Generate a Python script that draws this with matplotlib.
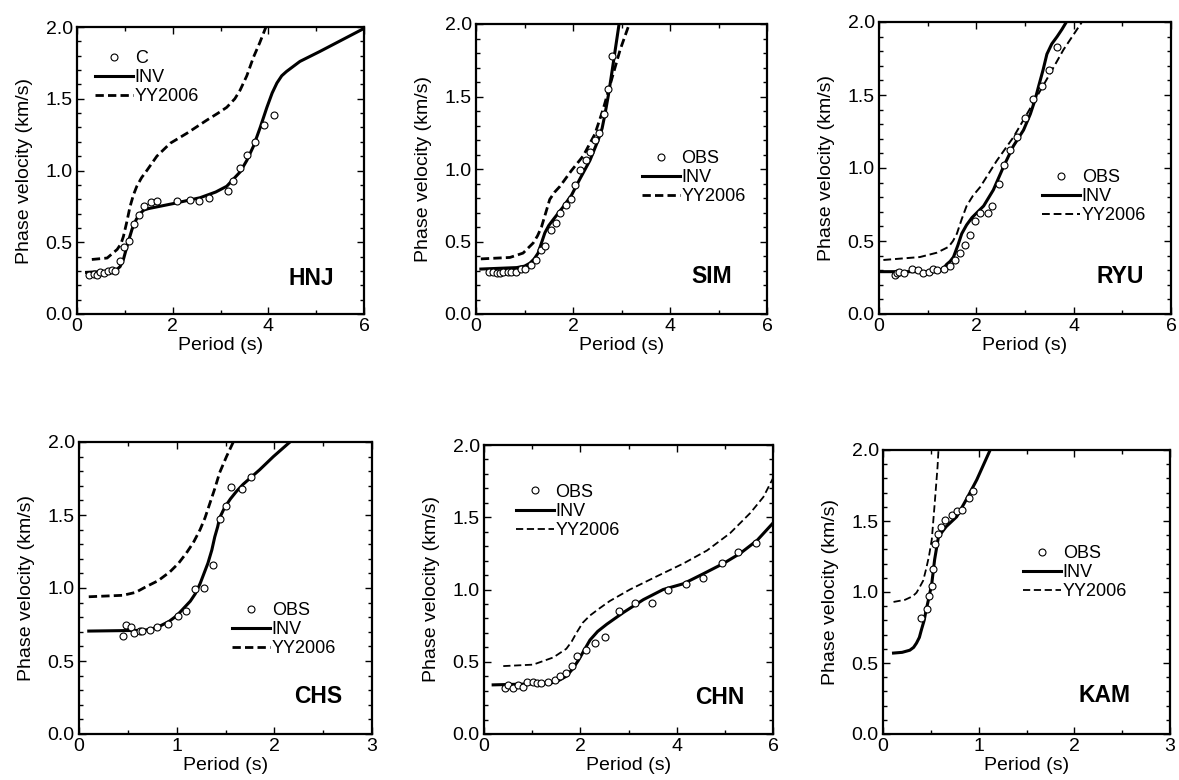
import numpy as np
import matplotlib
matplotlib.use("Agg")
import matplotlib.pyplot as plt
from matplotlib.ticker import MultipleLocator

plt.rcParams['font.family'] = ['Liberation Sans', 'DejaVu Sans']

# ---- data: period (s), phase velocity (km/s) ----
# HNJ
hnj_obs_t = [0.26, 0.35, 0.42, 0.49, 0.57, 0.64, 0.73, 0.80, 0.90, 0.99, 1.08, 1.20, 1.29, 1.41,
             1.55, 1.67, 2.10, 2.37, 2.56, 2.75, 3.15, 3.27, 3.41, 3.56, 3.72, 3.90, 4.11]
hnj_obs_c = [0.27, 0.28, 0.27, 0.29, 0.285, 0.30, 0.31, 0.30, 0.37, 0.47, 0.51, 0.63, 0.69, 0.75,
             0.78, 0.79, 0.79, 0.795, 0.79, 0.81, 0.86, 0.93, 1.02, 1.11, 1.20, 1.32, 1.39]
hnj_inv_t = [0.2, 0.8, 0.9, 0.97, 1.06, 1.15, 1.24, 1.32, 1.40, 1.50, 2.02, 2.57, 2.9, 3.13, 3.41,
             3.55, 3.69, 3.83, 3.97, 4.08, 4.18, 4.28, 4.38, 4.66, 5.08, 6.0]
hnj_inv_c = [0.29, 0.30, 0.33, 0.38, 0.49, 0.59, 0.66, 0.70, 0.725, 0.735, 0.77, 0.81, 0.85, 0.89, 0.99,
             1.07, 1.17, 1.30, 1.44, 1.54, 1.61, 1.66, 1.69, 1.76, 1.83, 1.99]
hnj_yy_t = [0.31, 0.63, 0.84, 0.92, 0.97, 1.04, 1.11, 1.18, 1.25, 1.35, 1.46, 1.67, 1.95, 2.30, 2.71,
            2.95, 3.13, 3.30, 3.41, 3.55, 3.69, 3.82, 3.95]
hnj_yy_c = [0.38, 0.39, 0.45, 0.49, 0.54, 0.64, 0.75, 0.83, 0.89, 0.95, 1.00, 1.10, 1.19, 1.26, 1.35,
            1.40, 1.44, 1.50, 1.56, 1.66, 1.79, 1.89, 2.0]

# SIM
sim_obs_t = [0.27, 0.36, 0.43, 0.49, 0.56, 0.65, 0.73, 0.82, 0.93, 1.02, 1.13, 1.23, 1.33, 1.43,
             1.54, 1.64, 1.74, 1.85, 1.95, 2.04, 2.14, 2.26, 2.35, 2.45, 2.54, 2.64, 2.72, 2.80]
sim_obs_c = [0.29, 0.29, 0.28, 0.28, 0.29, 0.29, 0.29, 0.29, 0.31, 0.31, 0.34, 0.37, 0.44, 0.47,
             0.58, 0.63, 0.70, 0.75, 0.79, 0.89, 0.99, 1.06, 1.12, 1.20, 1.25, 1.38, 1.55, 1.78]
sim_inv_t = [0.1, 0.84, 1.0, 1.11, 1.20, 1.28, 1.35, 1.42, 1.50, 1.59, 1.80, 1.97, 2.14, 2.35, 2.52,
             2.60, 2.66, 2.73, 2.79, 2.87, 2.95]
sim_inv_c = [0.31, 0.32, 0.33, 0.35, 0.38, 0.42, 0.49, 0.56, 0.61, 0.65, 0.74, 0.82, 0.93, 1.06, 1.20,
             1.28, 1.38, 1.51, 1.64, 1.82, 2.0]
sim_yy_t = [0.1, 0.70, 0.97, 1.18, 1.27, 1.35, 1.44, 1.52, 1.62, 1.73, 1.97, 2.21, 2.45, 2.62, 2.79,
            2.97, 3.16]
sim_yy_c = [0.38, 0.39, 0.42, 0.49, 0.54, 0.60, 0.70, 0.79, 0.84, 0.88, 0.99, 1.09, 1.24, 1.41, 1.61,
            1.82, 2.0]

# RYU
ryu_obs_t = [0.32, 0.36, 0.42, 0.51, 0.67, 0.81, 0.91, 1.02, 1.10, 1.20, 1.34, 1.46, 1.56, 1.67, 1.77,
             1.87, 1.98, 2.08, 2.23, 2.32, 2.46, 2.57, 2.70, 2.83, 2.99, 3.16, 3.35, 3.50, 3.66]
ryu_obs_c = [0.27, 0.28, 0.29, 0.28, 0.31, 0.30, 0.28, 0.29, 0.31, 0.30, 0.31, 0.33, 0.37, 0.42, 0.47,
             0.54, 0.64, 0.69, 0.69, 0.74, 0.89, 1.02, 1.12, 1.21, 1.34, 1.47, 1.56, 1.67, 1.83]
ryu_inv_t = [0.05, 1.19, 1.32, 1.39, 1.46, 1.53, 1.62, 1.70, 1.80, 1.91, 2.15, 2.35, 2.56, 2.76, 2.97,
             3.11, 3.20, 3.28, 3.37, 3.45, 3.55, 3.66, 3.76, 3.85]
ryu_inv_c = [0.29, 0.29, 0.31, 0.34, 0.36, 0.39, 0.47, 0.55, 0.61, 0.66, 0.74, 0.85, 1.01, 1.15, 1.26,
             1.37, 1.46, 1.56, 1.67, 1.78, 1.85, 1.90, 1.95, 2.0]
ryu_yy_t = [0.09, 0.84, 1.19, 1.43, 1.52, 1.60, 1.70, 1.80, 1.93, 2.08, 2.42, 2.76, 3.04, 3.28, 3.52,
            3.79, 4.17]
ryu_yy_c = [0.37, 0.39, 0.42, 0.46, 0.50, 0.55, 0.65, 0.74, 0.81, 0.87, 1.05, 1.21, 1.37, 1.51, 1.65,
            1.81, 2.0]

# CHS
chs_obs_t = [0.45, 0.48, 0.53, 0.56, 0.62, 0.65, 0.73, 0.80, 0.91, 1.01, 1.10, 1.19, 1.28, 1.37,
             1.44, 1.50, 1.56, 1.67, 1.76]
chs_obs_c = [0.67, 0.75, 0.73, 0.69, 0.705, 0.705, 0.71, 0.73, 0.755, 0.81, 0.84, 0.99, 1.00, 1.16,
             1.47, 1.56, 1.69, 1.68, 1.76]
chs_inv_t = [0.10, 0.66, 0.75, 0.83, 0.92, 1.00, 1.07, 1.14, 1.19, 1.24, 1.28, 1.32, 1.36, 1.39, 1.42,
             1.44, 1.49, 1.55, 1.61, 1.68, 1.85, 1.99, 2.16]
chs_inv_c = [0.705, 0.71, 0.72, 0.74, 0.77, 0.81, 0.86, 0.91, 0.96, 1.03, 1.10, 1.17, 1.26, 1.35, 1.42,
             1.48, 1.55, 1.61, 1.66, 1.71, 1.81, 1.90, 2.0]
chs_yy_t = [0.10, 0.45, 0.58, 0.69, 0.81, 0.93, 1.02, 1.10, 1.17, 1.24, 1.29, 1.34, 1.39, 1.44, 1.51,
            1.58]
chs_yy_c = [0.94, 0.95, 0.97, 1.01, 1.05, 1.11, 1.17, 1.24, 1.31, 1.40, 1.48, 1.58, 1.68, 1.79, 1.90,
            2.0]

# CHN
chn_obs_t = [0.43, 0.50, 0.60, 0.71, 0.81, 0.89, 1.01, 1.09, 1.19, 1.33, 1.48, 1.57, 1.71, 1.82,
             1.93, 2.12, 2.30, 2.51, 2.81, 3.13, 3.48, 3.81, 4.20, 4.54, 4.94, 5.27, 5.64]
chn_obs_c = [0.32, 0.34, 0.32, 0.34, 0.325, 0.36, 0.36, 0.35, 0.35, 0.36, 0.375, 0.40, 0.42, 0.47,
             0.54, 0.58, 0.63, 0.67, 0.85, 0.91, 0.91, 1.00, 1.04, 1.08, 1.18, 1.26, 1.32]
chn_inv_t = [0.19, 1.37, 1.55, 1.71, 1.84, 1.96, 2.08, 2.20, 2.36, 2.55, 2.89, 3.31, 3.72, 4.14, 4.56,
             4.97, 5.32, 5.67, 6.0]
chn_inv_c = [0.34, 0.35, 0.37, 0.40, 0.45, 0.51, 0.58, 0.65, 0.71, 0.76, 0.84, 0.93, 1.00, 1.04, 1.11,
             1.18, 1.25, 1.34, 1.46]
chn_yy_t = [0.40, 1.02, 1.44, 1.71, 1.82, 1.92, 2.05, 2.20, 2.40, 2.61, 3.03, 3.58, 4.14, 4.63, 5.11,
            5.53, 5.80, 6.0]
chn_yy_c = [0.47, 0.48, 0.53, 0.59, 0.64, 0.70, 0.77, 0.82, 0.87, 0.92, 1.00, 1.09, 1.18, 1.27, 1.39,
            1.53, 1.64, 1.77]

# KAM
kam_obs_t = [0.40, 0.46, 0.48, 0.51, 0.52, 0.54, 0.57, 0.61, 0.65, 0.72, 0.77, 0.83, 0.90, 0.94]
kam_obs_c = [0.82, 0.88, 0.97, 1.04, 1.16, 1.34, 1.41, 1.46, 1.51, 1.54, 1.57, 1.58, 1.66, 1.71]
kam_inv_t = [0.11, 0.20, 0.28, 0.32, 0.35, 0.38, 0.40, 0.43, 0.45, 0.48, 0.51, 0.54, 0.58, 0.66, 0.77,
             0.87, 0.98, 1.12]
kam_inv_c = [0.57, 0.575, 0.59, 0.61, 0.64, 0.68, 0.73, 0.80, 0.87, 0.96, 1.06, 1.23, 1.39, 1.46, 1.53,
             1.65, 1.79, 2.0]
kam_yy_t = [0.11, 0.23, 0.31, 0.35, 0.38, 0.42, 0.45, 0.48, 0.51, 0.54, 0.57, 0.58]
kam_yy_c = [0.93, 0.945, 0.97, 0.995, 1.03, 1.08, 1.16, 1.25, 1.37, 1.62, 1.88, 2.0]

stations = ['HNJ', 'SIM', 'RYU', 'CHS', 'CHN', 'KAM']
obs_labels = ['C', 'OBS', 'OBS', 'OBS', 'OBS', 'OBS']
xmax = [6, 6, 6, 3, 6, 3]
panels = [
    (hnj_obs_t, hnj_obs_c, hnj_inv_t, hnj_inv_c, hnj_yy_t, hnj_yy_c),
    (sim_obs_t, sim_obs_c, sim_inv_t, sim_inv_c, sim_yy_t, sim_yy_c),
    (ryu_obs_t, ryu_obs_c, ryu_inv_t, ryu_inv_c, ryu_yy_t, ryu_yy_c),
    (chs_obs_t, chs_obs_c, chs_inv_t, chs_inv_c, chs_yy_t, chs_yy_c),
    (chn_obs_t, chn_obs_c, chn_inv_t, chn_inv_c, chn_yy_t, chn_yy_c),
    (kam_obs_t, kam_obs_c, kam_inv_t, kam_inv_c, kam_yy_t, kam_yy_c),
]

# layout (pixels): left, top, right, bottom of each axes box
W, H = 1179, 780
boxes = [(77, 27, 364, 314), (476, 24, 767, 314), (879, 22, 1171, 314),
         (79, 442, 372, 734), (484, 445, 773, 734), (883, 450, 1170, 734)]
yy_lw = [2.0, 2.0, 1.4, 2.0, 1.3, 1.3]
leg_pos = [(0.063, 0.92), (0.57, 0.565), (0.558, 0.497), (0.522, 0.452), (0.11, 0.866), (0.488, 0.665)]
name_pos = [(0.815, 0.125), (0.81, 0.128), (0.825, 0.127), (0.816, 0.127), (0.817, 0.125), (0.773, 0.137)]

fig = plt.figure(figsize=(W / 100, H / 100), dpi=100)

for i, st in enumerate(stations):
    l, t, r, b = boxes[i]
    ax = fig.add_axes([l / W, 1 - b / H, (r - l) / W, (b - t) / H])
    ot, oc, it, ic, yt, yc = panels[i]
    ax.plot(ot, oc, 'o', ms=5, mfc='white', mec='black', mew=0.8, label=obs_labels[i], zorder=3)
    ax.plot(it, ic, '-', color='black', lw=2.2, label='INV')
    ax.plot(yt, yc, '--', color='black', lw=yy_lw[i], dashes=(3, 1.5) if yy_lw[i] > 1.5 else (4, 2),
            label='YY2006')
    ax.set_xlim(0, xmax[i])
    ax.set_ylim(0, 2)
    ax.xaxis.set_major_locator(MultipleLocator(2 if xmax[i] == 6 else 1))
    ax.xaxis.set_minor_locator(MultipleLocator(1 if xmax[i] == 6 else 0.5))
    ax.yaxis.set_major_locator(MultipleLocator(0.5))
    ax.yaxis.set_minor_locator(MultipleLocator(0.1))
    ax.yaxis.set_major_formatter(plt.FormatStrFormatter('%.1f'))
    ax.tick_params(which='both', direction='in', top=True, right=True, labelsize=14, pad=3)
    ax.tick_params(which='major', length=5, width=1)
    ax.tick_params(which='minor', length=3, width=1)
    for s in ax.spines.values():
        s.set_linewidth(1.6)
    ax.set_xlabel('Period (s)', fontsize=14, labelpad=1)
    ax.set_ylabel('Phase velocity (km/s)', fontsize=14, labelpad=9)
    ax.text(name_pos[i][0], name_pos[i][1], st, transform=ax.transAxes, fontsize=16.5,
            fontweight='bold', ha='center', va='center')
    ax.legend(loc='upper left', bbox_to_anchor=leg_pos[i], frameon=False, fontsize=13,
              handlelength=2.1, handletextpad=0.1, labelspacing=0.12, borderpad=0,
              borderaxespad=0)

fig.savefig('out.png', dpi=100)
